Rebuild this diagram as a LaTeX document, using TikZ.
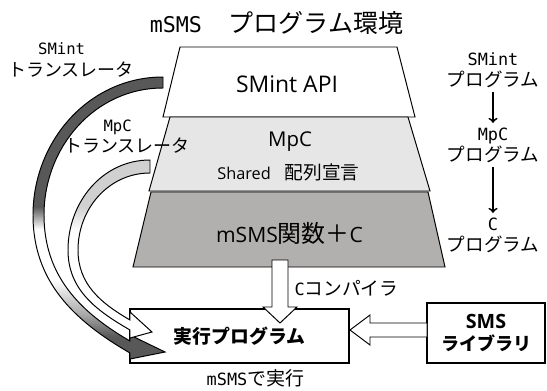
\documentclass[tikz,border=0pt]{standalone}
\usepackage{fontspec}
\setmainfont{Open Sans}
\setmonofont{DejaVu Sans Mono}
\newfontfamily\jp{Noto Sans CJK JP}
\usetikzlibrary{arrows}

\definecolor{bandgray}{RGB}{88,88,88}
\definecolor{midgray}{RGB}{170,170,170}
\definecolor{lightband}{RGB}{208,208,208}
\definecolor{mpcgray}{RGB}{230,230,230}
\definecolor{funcgray}{RGB}{178,176,174}

\pgfdeclareverticalshading{smintband}{100bp}{color(0bp)=(bandgray); color(29bp)=(bandgray); color(33bp)=(midgray); color(39bp)=(white); color(48bp)=(white); color(52bp)=(bandgray); color(100bp)=(bandgray)}
\pgfdeclareverticalshading{mpcband}{100bp}{color(0bp)=(white); color(55bp)=(white); color(62bp)=(lightband); color(100bp)=(lightband)}

\newcommand{\monotxt}[2]{{\ttfamily\fontsize{#1}{#1}\selectfont #2}}

\begin{document}
\begin{tikzpicture}[x=0.025cm,y=0.025cm,line width=0.7pt,
    lbl/.style={align=center,font=\fontsize{12.8}{15}\selectfont\jp},
    prog/.style={align=center,inner sep=3pt,font=\fontsize{13.2}{15}\selectfont\jp},
    runbox/.style={draw,fill=white,line width=0.8pt}]
    \useasboundingbox (0,0) rectangle (547,390);
    % layers
    \draw[fill=white] (180,343) -- (397,343) -- (415,273) -- (163,273) -- cycle;
    \draw[fill=mpcgray] (170,273) -- (408,273) -- (430,199) -- (149,199) -- cycle;
    \draw[fill=funcgray] (151,198) -- (428,198) -- (445,123) -- (133,123) -- cycle;
    \node (title) at (276.5,367) {\fontsize{17.8}{20}\selectfont\monotxt{15.4}{mSMS}\hspace{19pt}\jp プログラム環境};
    \node (smintapi) at (287,306) {\fontsize{16.3}{18}\selectfont SMint API};
    \node (mpc) at (290,248) {\fontsize{14.5}{16}\selectfont MpC};
    \node (shared) at (288.5,218) {\fontsize{11.6}{14}\selectfont Shared\hspace{10pt}{\jp\fontsize{13.3}{14}\selectfont 配列宣言}};
    \node (msmsc) at (289.5,157) {\fontsize{15}{17}\selectfont mSMS{\jp\fontsize{17}{17}\selectfont 関数＋}C};
    % boxes
    \node[runbox,minimum width=5.475cm,minimum height=1.35cm,font=\fontsize{13.4}{15}\selectfont\jp\bfseries] (exec) at (239.5,54) {実行プログラム};
    \node[runbox,minimum width=2.95cm,minimum height=1.5cm,align=center,font=\fontsize{12.8}{15.6}\selectfont\jp\bfseries] (smslib) at (486,57) {{\fontsize{14}{15.6}\selectfont\rmfamily\bfseries SMS}\\ライブラリ};
    % block arrows
    \draw[fill=white] (272,130) -- (288,130) -- (288,83) -- (297,83) -- (280,67) -- (263,83) -- (272,83) -- cycle;
    \draw[fill=white] (427,67) -- (370,67) -- (370,75) -- (350,60) -- (370,45) -- (370,53) -- (427,53) -- cycle;
    \node[font=\fontsize{13.3}{15}\selectfont\jp] (cclbl) at (346.5,102) {\monotxt{12}{C}コンパイラ};
    \node[inner sep=0pt,font=\fontsize{13.5}{15}\selectfont\jp] (runlbl) at (255.5,12) {\monotxt{12}{mSMS}で実行};
    % translators
    \shadedraw[shading=smintband] (163,313) to[out=180,in=90] (33,175) to[out=-90,in=150] (130,37) -- (130,31) -- (165,38) -- (130,55) -- (130,49) to[out=150,in=-90] (44,175) to[out=90,in=180] (163,302) -- cycle;
    \shadedraw[shading=mpcband] (150,230) to[out=180,in=90] (68,140) to[out=-90,in=150] (130,60) -- (130,52) -- (152,58) -- (130,78) -- (130,70) to[out=150,in=-90] (78,140) to[out=90,in=180] (150,217) -- cycle;
    \node[lbl] (smintlbl) at (71,330) {\monotxt{11.1}{SMint\hphantom{xx}}\\トランスレータ};
    \node[lbl] (mpclbl) at (127,253) {\monotxt{11.1}{MpC\hphantom{xx}}\\トランスレータ};
    % programs
    \node[prog] (smintprog) at (493,320) {\monotxt{12}{SMint}\\プログラム};
    \node[prog] (mpcprog) at (493,245) {\monotxt{12}{MpC}\\プログラム};
    \node[prog] (cprog) at (493,155) {\monotxt{12}{C}\\プログラム};
    \draw[->,line width=1.3pt] (smintprog) -- (mpcprog);
    \draw[->,line width=1.3pt] (mpcprog) -- (cprog);
\end{tikzpicture}
\end{document}
